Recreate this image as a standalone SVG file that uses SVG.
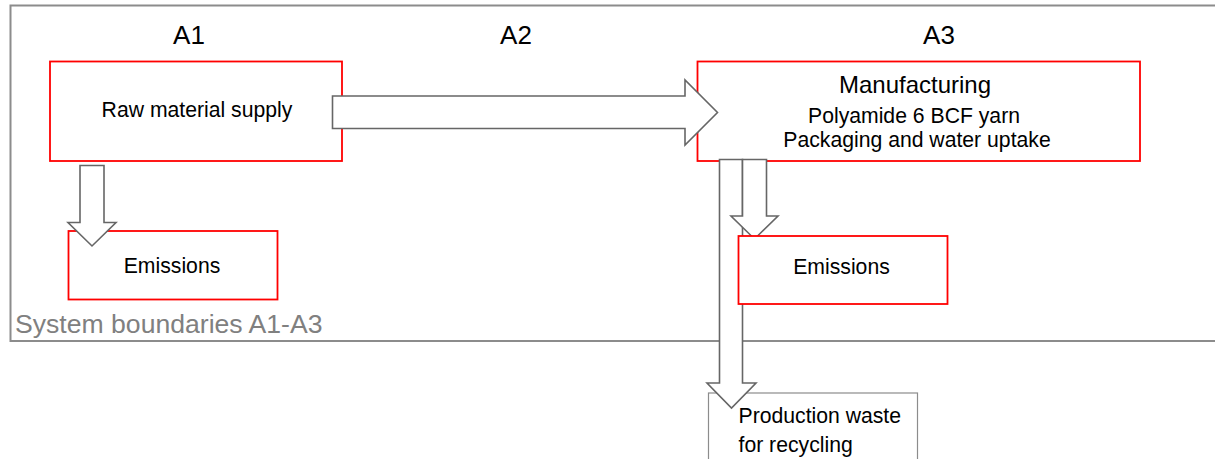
<svg xmlns="http://www.w3.org/2000/svg" width="1215" height="459" viewBox="0 0 1215 459">
<style>
text{font-family:"Liberation Sans",Arial,sans-serif;fill:#000}
.box{fill:#fff;stroke:#ff0000;stroke-width:1.8}
.gbox{fill:#fff;stroke:#8c8c8c;stroke-width:1.2}
.arr{fill:#fff;stroke:#666;stroke-width:1.6;stroke-linejoin:miter}
.lbl{font-size:26px}
.t21{font-size:21.2px}
</style>
<rect width="1215" height="459" fill="#fff"/>
<g id="boundary">
<path d="M1216,5.5 H10.5 V341 H1216" fill="none" stroke="#8c8c8c" stroke-width="2"/>
<text x="15" y="333" font-size="26.6" style="fill:#808080">System boundaries A1-A3</text>
</g>
<g id="phase-labels">
<text x="189" y="43.5" class="lbl" text-anchor="middle">A1</text>
<text x="516" y="43.5" class="lbl" text-anchor="middle">A2</text>
<text x="939" y="43.5" class="lbl" text-anchor="middle">A3</text>
</g>
<g id="raw-material">
<rect class="box" x="50" y="61.5" width="292" height="99.5"/>
<text x="197" y="117" class="t21" text-anchor="middle">Raw material supply</text>
</g>
<g id="manufacturing">
<rect class="box" x="697.5" y="61.5" width="442.5" height="99.5"/>
<text x="915" y="93" font-size="24" text-anchor="middle">Manufacturing</text>
<text x="914" y="123" class="t21" text-anchor="middle">Polyamide 6 BCF yarn</text>
<text x="917" y="147" class="t21" text-anchor="middle">Packaging and water uptake</text>
</g>
<g id="production-waste">
<rect class="gbox" x="708.5" y="393" width="209" height="80"/>
<text x="738.5" y="423" class="t21">Production waste</text>
<text x="738.5" y="451.5" class="t21">for recycling</text>
</g>
<g id="connectors">
<path class="arr" d="M332.5,96 H685 V80 L717.5,112.5 L685,145 V128.5 H332.5 Z"/>
<path class="arr" d="M719.5,159.5 H742.5 V383 H756 L731.5,408 L707,383 H719.5 Z"/>
<path class="arr" d="M742.5,159.5 H766.5 V216 H778 L754.5,239 L731,216 H742.5 Z"/>
</g>
<g id="emissions-a3">
<rect class="box" x="738.5" y="236" width="209" height="68"/>
<text x="841.5" y="273.5" class="t21" text-anchor="middle">Emissions</text>
</g>
<g id="emissions-a1">
<rect class="box" x="68.5" y="231" width="209" height="68.5"/>
<text x="172" y="273" class="t21" text-anchor="middle">Emissions</text>
</g>
<g id="connectors-a1">
<path class="arr" d="M80,165.5 H104 V222.5 H116 L92,246 L68,222.5 H80 Z"/>
</g>
</svg>
